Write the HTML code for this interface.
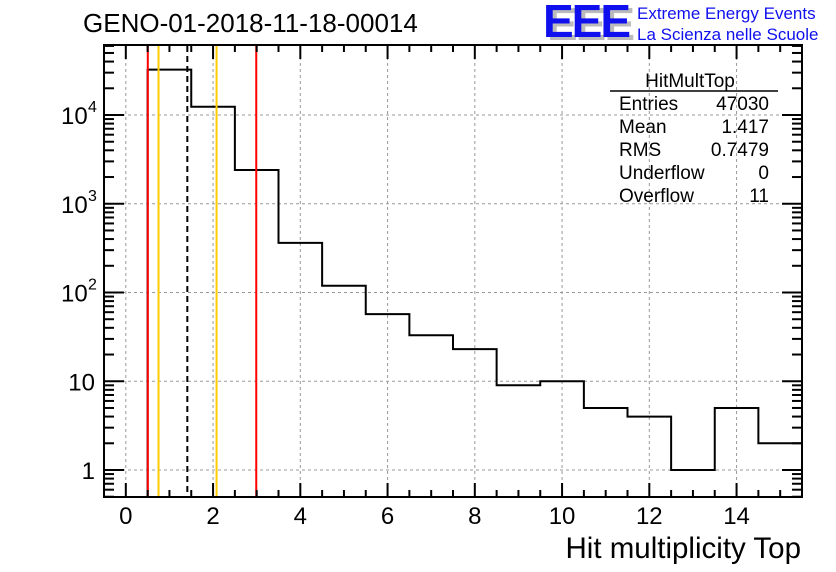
<!DOCTYPE html>
<html><head><meta charset="utf-8"><style>
html,body{margin:0;padding:0;background:#fff;}
svg{display:block;font-family:"Liberation Sans",Arial,sans-serif;}
</style></head><body>
<svg id="s" width="836" height="572" viewBox="0 0 836 572" xmlns="http://www.w3.org/2000/svg">
<rect width="836" height="572" fill="#fff"/>
<g id="grid" stroke="#999" stroke-width="1" stroke-dasharray="3,3" fill="none"></g>
<g id="lines"></g>
<g id="ticks" stroke="#000" stroke-width="2" fill="none"></g>
<rect x="104" y="45" width="698" height="452" fill="none" stroke="#000" stroke-width="2"/>
<text x="83" y="32" font-size="26" fill="#000">GENO-01-2018-11-18-00014</text>
<text x="547" y="40" font-size="46" font-weight="bold" fill="#bbb" letter-spacing="-2">EEE</text>
<text x="543" y="37" font-size="46" font-weight="bold" fill="#1010ee" letter-spacing="-2">EEE</text>
<text x="637" y="19" font-size="17" fill="#1010ee">Extreme Energy Events</text>
<text x="637" y="40" font-size="17" fill="#1010ee">La Scienza nelle Scuole</text>
<g font-size="19" fill="#000">
<text x="690" y="87" text-anchor="middle">HitMultTop</text>
<line x1="610" y1="91" x2="778" y2="91" stroke="#000" stroke-width="1.5"/>
<text x="619" y="110">Entries</text><text x="769" y="110" text-anchor="end">47030</text>
<text x="619" y="133">Mean</text><text x="769" y="133" text-anchor="end">1.417</text>
<text x="619" y="156">RMS</text><text x="769" y="156" text-anchor="end">0.7479</text>
<text x="619" y="179">Underflow</text><text x="769" y="179" text-anchor="end">0</text>
<text x="619" y="202">Overflow</text><text x="769" y="202" text-anchor="end">11</text>
</g>
<g id="labels" font-size="24" fill="#000"></g>
<text x="801" y="558" font-size="29.5" text-anchor="end" fill="#000">Hit multiplicity Top</text>
</svg>
<script>
var NS="http://www.w3.org/2000/svg";
function X(v){return 104+(v+0.5)*43.625;}
function Y(v){return 470-Math.log10(v)*88.75;}
function el(p,t,a){var e=document.createElementNS(NS,t);for(var k in a)e.setAttribute(k,a[k]);document.getElementById(p).appendChild(e);return e;}
for(var i=0;i<=14;i+=2)el("grid","line",{x1:X(i),y1:45,x2:X(i),y2:497});
for(var d=0;d<=4;d++)el("grid","line",{x1:104,y1:Y(Math.pow(10,d)),x2:802,y2:Y(Math.pow(10,d))});
var h=[32500,12400,2400,362,119,57,33,23,9,10,5,4,1,5,2];
var p="M"+X(0.5)+",497";
for(var b=0;b<h.length;b++){var y=Y(h[b]);p+=" L"+X(b+0.5)+","+y+" L"+X(b+1.5)+","+y;}
el("lines","path",{d:p,fill:"none",stroke:"#000","stroke-width":2});
function vl(v,c,dash){var a={x1:X(v),y1:46,x2:X(v),y2:496,stroke:c,"stroke-width":2};if(dash)a["stroke-dasharray"]="6,4";el("lines","line",a);}
vl(0.504,"#f00");vl(2.99,"#f00");vl(0.75,"#fc0");vl(2.08,"#fc0");vl(1.41,"#000",true);
for(var t=-0.5;t<=15.5;t+=0.5){var maj=(t%2===0);var L=maj?14:7;var x=X(t);
el("ticks","line",{x1:x,y1:497,x2:x,y2:497-L});el("ticks","line",{x1:x,y1:45,x2:x,y2:45+L});}
for(var d=-1;d<=4;d++){for(var m=1;m<=9;m++){var v=m*Math.pow(10,d);var y=Y(v);if(y>497||y<45)continue;var L=(m===1)?20:10;
el("ticks","line",{x1:104,y1:y,x2:104+L,y2:y});el("ticks","line",{x1:802,y1:y,x2:802-L,y2:y});}}
for(var i=0;i<=14;i+=2){var e=el("labels","text",{x:X(i),y:524,"text-anchor":"middle"});e.textContent=i;}
[["1",0],["10",1]].forEach(function(a){var e=el("labels","text",{x:95,y:Y(Math.pow(10,a[1]))+9,"text-anchor":"end"});e.textContent=a[0];});
[2,3,4].forEach(function(d){var y=Y(Math.pow(10,d))+9;var e=el("labels","text",{x:61,y:y});e.textContent="10";var s=el("labels","text",{x:88,y:y-12,"font-size":"16"});s.textContent=d;});
</script>
</body></html>
